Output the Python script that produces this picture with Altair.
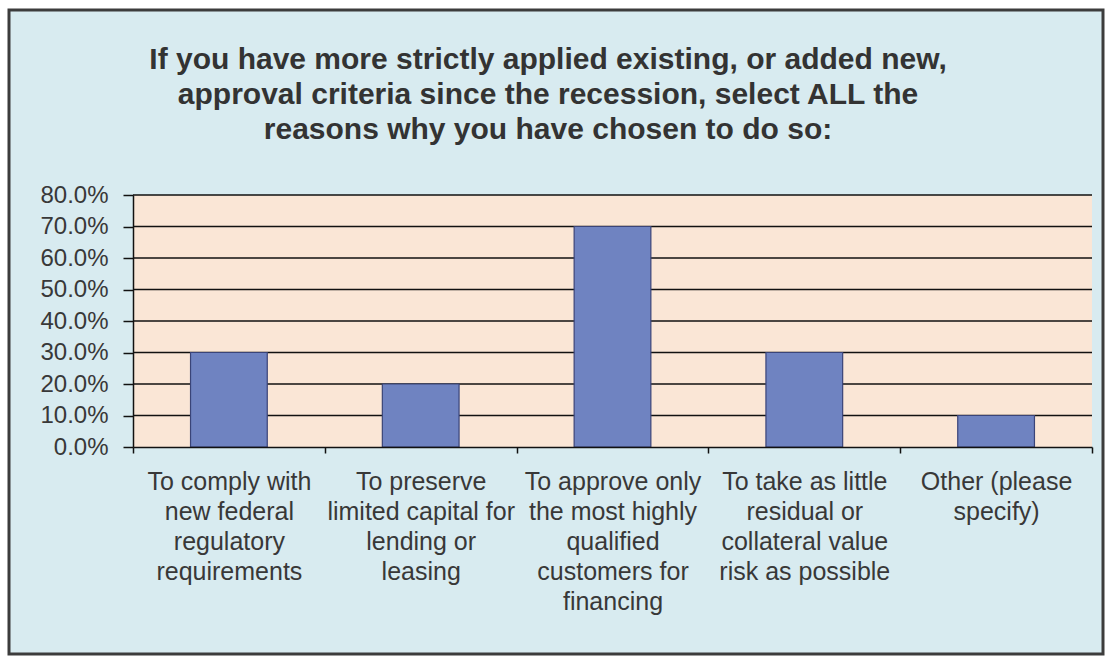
import altair as alt
import pandas as pd

categories = [
    "To comply with|new federal|regulatory|requirements",
    "To preserve|limited capital for|lending or|leasing",
    "To approve only|the most highly|qualified|customers for|financing",
    "To take as little|residual or|collateral value|risk as possible",
    "Other (please|specify)",
]
values = [0.30, 0.20, 0.70, 0.30, 0.10]
y_ticks = [0.0, 0.1, 0.2, 0.3, 0.4, 0.5, 0.6, 0.7, 0.8]
title_lines = [
    "If you have more strictly applied existing, or added new,",
    "approval criteria since the recession, select ALL the",
    "reasons why you have chosen to do so:",
]

W, H = 959, 252
FONT = "Liberation Sans"

df = pd.DataFrame({"cat": categories, "val": values})
grid_df = pd.DataFrame({"v": [t for t in y_ticks if t > 0]})

y_axis = alt.Axis(
    values=y_ticks, format=".1%", grid=False,
    labelFont=FONT, labelFontSize=24, labelColor="#383838",
    labelPadding=15, tickSize=10, tickColor="#111111", tickWidth=1.5,
    domainColor="#111111", domainWidth=1.5, zindex=1,
)

frame = alt.Chart(pd.DataFrame({"a": [0]})).mark_rect(
    fill="#D8EBF0", stroke="#3c3c3c", strokeWidth=3, clip=False
).encode(
    x=alt.value(-124), x2=alt.value(970), y=alt.value(-185), y2=alt.value(459)
)

plotbg = alt.Chart(pd.DataFrame({"a": [0]})).mark_rect(fill="#FAE6D6").encode(
    x=alt.value(0), x2=alt.value(W), y=alt.value(0), y2=alt.value(H)
)

grid = alt.Chart(grid_df).mark_rule(color="#111111", strokeWidth=1.5).encode(
    y=alt.Y("v:Q", title=None, axis=y_axis, scale=alt.Scale(domain=[0, 0.8]))
)

bars = alt.Chart(df).mark_bar(
    color="#6F83C1", stroke="#3A4478", strokeWidth=1.2,
    width=alt.RelativeBandSize(0.4)
).encode(
    x=alt.X(
        "cat:N", sort=categories, title=None,
        scale=alt.Scale(paddingInner=0, paddingOuter=0),
        axis=alt.Axis(
            labelExpr="split(datum.label, '|')", labelAngle=0,
            labelFont=FONT, labelFontSize=25, labelColor="#383838",
            labelLineHeight=30, labelBaseline="top", labelPadding=16,
            labelLimit=0, labelOverlap=False,
            tickBand="extent", tickSize=6, tickColor="#111111", tickWidth=1.5,
            domainColor="#111111", domainWidth=1.5, zindex=1,
        ),
    ),
    y=alt.Y("val:Q", title=None, axis=y_axis, scale=alt.Scale(domain=[0, 0.8])),
)

chart = alt.layer(frame, plotbg, grid, bars).properties(
    width=W, height=H,
    autosize=alt.AutoSizeParams(type="none"),
    padding={"left": 133, "top": 195, "right": 14, "bottom": 214},
    background="white",
    title=alt.TitleParams(
        text=title_lines, font=FONT, fontSize=30, fontWeight="bold",
        color="#333333", anchor="middle", lineHeight=35, dx=-8, offset=-136,
        frame="bounds",
    ),
).configure_view(stroke=None)

chart.save("out.html", embed_options={"renderer": "svg", "actions": False})
